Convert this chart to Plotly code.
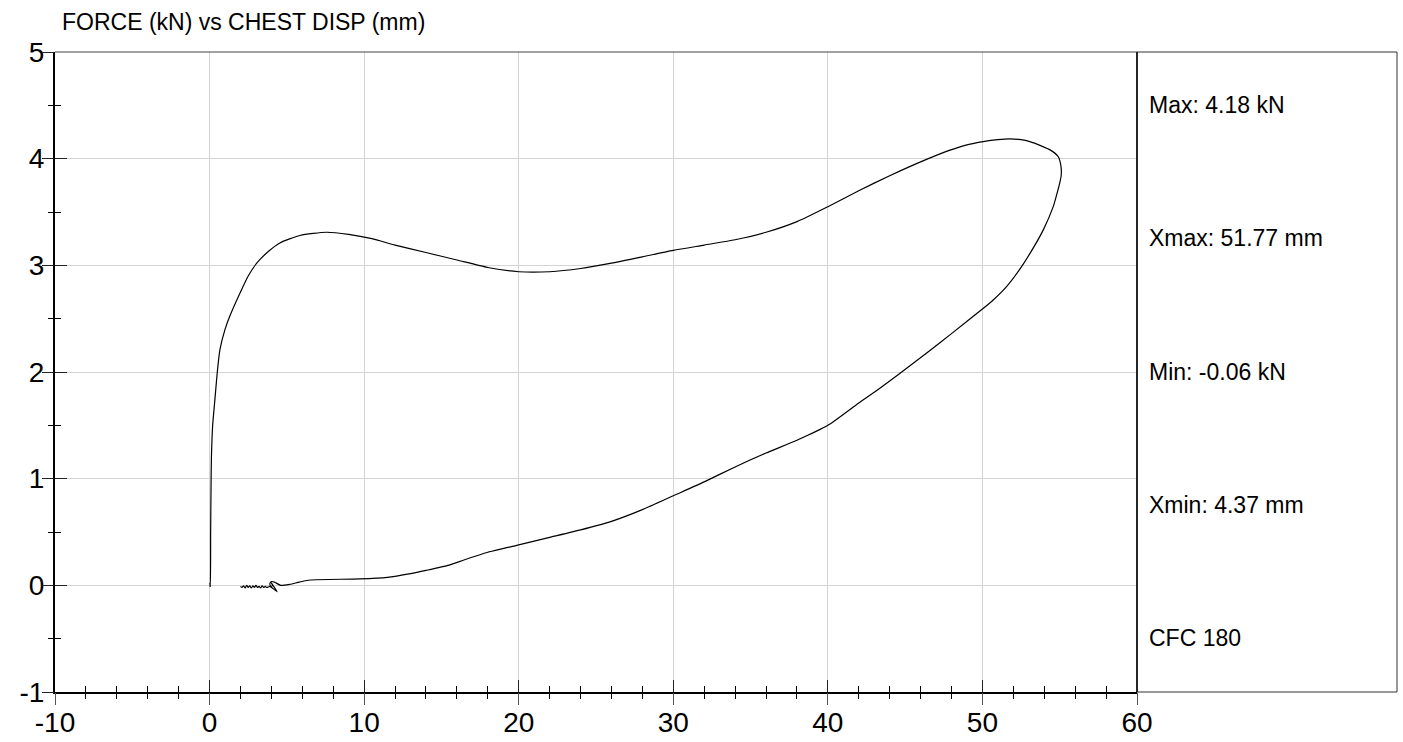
import plotly.graph_objects as go

# ---- data ----
load_x = [0.0, 0.05, 0.02, 0.05, 0.07, 0.1, 0.12, 0.2, 0.35, 0.5, 0.67, 1.0, 1.3, 1.97, 2.5, 3.05, 3.8,
          4.55, 5.85, 7.57, 9.0, 10.5, 12.0, 14.0, 16.0, 18.0, 20.0, 22.0, 24.0, 26.0, 28.0, 30.0,
          32.0, 34.0, 36.0, 38.0, 40.0, 42.0, 44.0, 46.0, 47.9, 49.0, 50.05, 51.0, 51.78, 52.5,
          53.07, 53.8, 54.4, 54.9, 55.08]
load_y = [0.0, -0.01, 0.02, 0.0, 0.5, 1.0, 1.2, 1.5, 1.75, 2.0, 2.21, 2.4, 2.52, 2.74, 2.9, 3.02, 3.13,
          3.21, 3.28, 3.31, 3.29, 3.25, 3.19, 3.12, 3.05, 2.98, 2.94, 2.94, 2.97, 3.02, 3.08, 3.14,
          3.19, 3.24, 3.31, 3.41, 3.55, 3.7, 3.84, 3.97, 4.08, 4.13, 4.16, 4.178, 4.185, 4.178,
          4.16, 4.12, 4.08, 4.02, 3.93]

unload_x = [55.1, 55.0, 54.8, 54.58, 53.93, 53.07, 52.4, 51.56, 50.7, 50.0, 48.0, 46.5, 45.5, 44.5,
            43.0, 42.0, 40.0, 38.0, 36.0, 34.0, 32.0, 30.0, 28.0, 26.0, 24.0, 22.0, 20.0, 18.0, 16.5,
            15.5, 14.0, 13.0, 11.5, 9.7, 6.5, 5.8, 5.2, 4.6]
unload_y = [3.85, 3.77, 3.66, 3.55, 3.33, 3.11, 2.96, 2.8, 2.675, 2.59, 2.36, 2.19, 2.08, 1.97,
            1.81, 1.71, 1.5, 1.36, 1.24, 1.11, 0.97, 0.84, 0.71, 0.6, 0.52, 0.45, 0.38, 0.31, 0.24,
            0.19, 0.14, 0.11, 0.075, 0.06, 0.05, 0.03, 0.01, 0.0]

tail_x = [4.2, 4.0, 3.9, 3.95, 4.1, 4.0, 4.37, 4.1, 3.9, 3.7, 3.6, 3.5, 3.4, 3.3, 3.2, 3.1,
          3.0, 2.9, 2.8, 2.7, 2.6, 2.5, 2.4, 2.3, 2.2, 2.1, 2.0]
tail_y = [0.03, 0.035, 0.015, -0.01, 0.0, 0.02, -0.06, -0.03, -0.01, -0.02, -0.01, -0.02, -0.005,
          -0.025, -0.01, -0.02, 0.0, -0.02, -0.005, -0.025, -0.005, -0.02, 0.0, -0.025, -0.005,
          -0.02, -0.01]

x_ticks = [-10, 0, 10, 20, 30, 40, 50, 60]
x_tick_labels = ["-10", "0", "10", "20", "30", "40", "50", "60"]
y_ticks = [-1, 0, 1, 2, 3, 4, 5]
y_tick_labels = ["-1", "0", "1", "2", "3", "4", "5"]

title_text = "FORCE (kN) vs CHEST DISP (mm)"
panel_texts = ["Max: 4.18 kN", "Xmax: 51.77 mm", "Min: -0.06 kN", "Xmin: 4.37 mm", "CFC 180"]
panel_ypos = [0.917, 0.709, 0.5, 0.292, 0.084]

FONT = "Liberation Sans, Arial, sans-serif"

fig = go.Figure()
fig.add_trace(go.Scatter(
    x=load_x + unload_x + tail_x,
    y=load_y + unload_y + tail_y,
    mode="lines",
    line=dict(color="black", width=1.2, shape="spline", smoothing=0.6),
    showlegend=False,
    hoverinfo="skip",
))
# empty trace to activate overlay axes (other half of the crossing ticks)
fig.add_trace(go.Scatter(x=[None], y=[None], xaxis="x2", yaxis="y2",
                         showlegend=False, hoverinfo="skip"))

common_x = dict(range=[-10, 60], zeroline=False, fixedrange=True, automargin=False)
common_y = dict(range=[-1, 5], zeroline=False, fixedrange=True, automargin=False)

fig.update_layout(
    width=1403, height=742,
    margin=dict(l=55, r=266, t=52, b=50, autoexpand=False),
    paper_bgcolor="white", plot_bgcolor="white",
    font=dict(family=FONT, color="black"),
    xaxis=dict(**common_x, tickmode="array", tickvals=x_ticks, ticktext=x_tick_labels,
               showgrid=True, gridcolor="#d4d4d4", gridwidth=1,
               showline=True, linecolor="black", linewidth=2,
               ticks="inside", ticklen=12, tickwidth=1, tickcolor="#222",
               ticklabelstandoff=4,
               minor=dict(ticks="inside", ticklen=6, tickwidth=1, tickcolor="black",
                          dtick=2, showgrid=False),
               tickfont=dict(size=28, family=FONT, color="black")),
    yaxis=dict(**common_y, tickmode="array", tickvals=y_ticks, ticktext=y_tick_labels,
               showgrid=True, gridcolor="#d4d4d4", gridwidth=1,
               showline=True, linecolor="black", linewidth=2,
               ticks="inside", ticklen=12, tickwidth=1, tickcolor="#222",
               ticklabelstandoff=3,
               minor=dict(ticks="inside", ticklen=6, tickwidth=1, tickcolor="black",
                          dtick=0.5, showgrid=False),
               tickfont=dict(size=28, family=FONT, color="black")),
    xaxis2=dict(**common_x, tickmode="array", tickvals=x_ticks,
                overlaying="x", matches="x", anchor="y2", side="bottom",
                showgrid=False, showline=False, showticklabels=False,
                ticks="outside", ticklen=12, tickwidth=1, tickcolor="#555",
                minor=dict(ticks="outside", ticklen=6, tickwidth=1, tickcolor="black",
                           dtick=2, showgrid=False)),
    yaxis2=dict(**common_y, tickmode="array", tickvals=y_ticks,
                overlaying="y", matches="y", anchor="x2", side="left",
                showgrid=False, showline=False, showticklabels=False,
                ticks="outside", ticklen=12, tickwidth=1, tickcolor="#222",
                minor=dict(ticks="outside", ticklen=6, tickwidth=1, tickcolor="black",
                           dtick=0.5, showgrid=False)),
)

# frame: top border of plot, right panel box
panel_right = (1397 - 55) / 1082
fig.add_shape(type="line", xref="paper", yref="paper", x0=0, x1=1, y0=1, y1=1,
              line=dict(color="#444", width=1))
fig.add_shape(type="rect", xref="paper", yref="paper", x0=1, x1=panel_right, y0=0, y1=1,
              line=dict(color="#333", width=1), fillcolor="rgba(0,0,0,0)")
fig.add_shape(type="line", xref="paper", yref="paper", x0=1, x1=1, y0=0, y1=1,
              line=dict(color="black", width=1.5))

fig.add_annotation(text=title_text, xref="paper", yref="paper", x=0.0046, y=1.047,
                   xanchor="left", yanchor="middle", showarrow=False,
                   font=dict(size=23, family=FONT, color="black"))

for txt, yp in zip(panel_texts, panel_ypos):
    fig.add_annotation(text=txt, xref="paper", yref="paper", x=1.0092, y=yp,
                       xanchor="left", yanchor="middle", showarrow=False,
                       font=dict(size=23, family=FONT, color="black"))

fig.write_html(
    "out.html",
    config={"displayModeBar": False},
    post_script="document.body.style.margin='0';document.body.style.overflow='hidden';",
)
